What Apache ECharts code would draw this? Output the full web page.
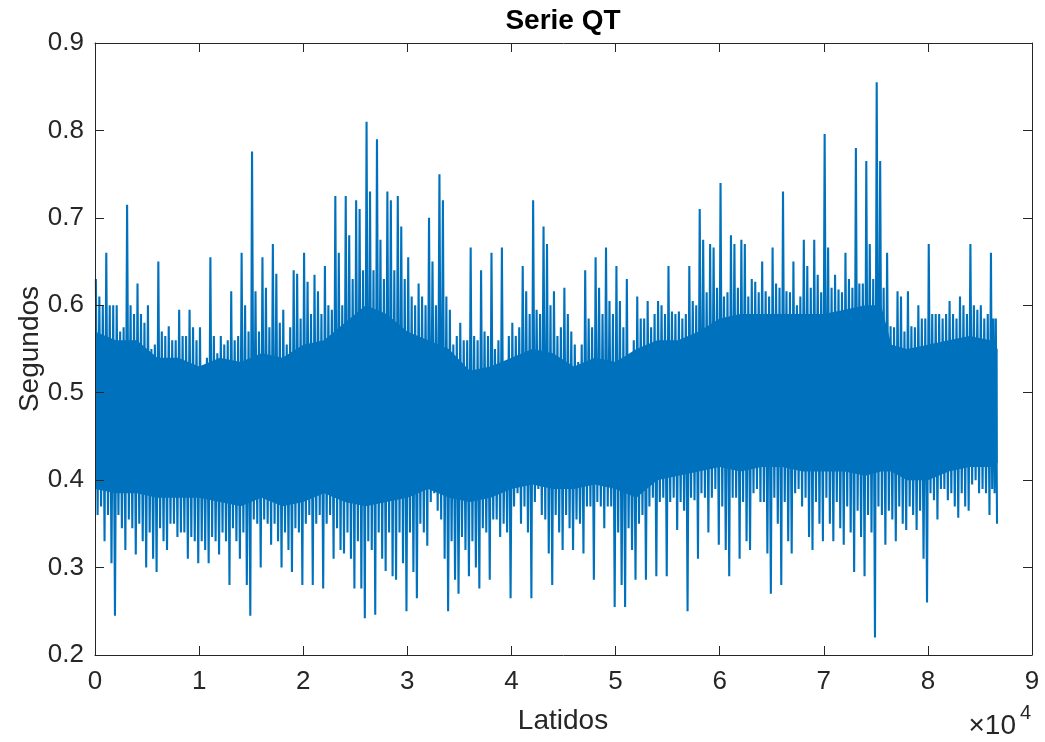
<!DOCTYPE html>
<html><head><meta charset="utf-8">
<script src="https://cdn.jsdelivr.net/npm/echarts@6/dist/echarts.min.js"></script>
<style>html,body{margin:0;padding:0;background:#fff}#c{width:1045px;height:742px}</style>
</head><body><div id="c"></div>
<script>
// Each bin covers 1000 latidos; six readings per bin:
// highest peak, dense-fringe top, secondary peak, secondary low, dense-fringe bottom, deepest low
const binSize = 1000;
const lastLatido = 86700;
const peakHi = [0.63,0.66,0.60,0.715,0.625,0.60,0.65,0.576,0.595,0.595,
  0.575,0.655,0.565,0.616,0.66,0.776,0.655,0.67,0.595,0.64,
  0.66,0.635,0.645,0.725,0.725,0.72,0.81,0.79,0.73,0.725,
  0.655,0.625,0.70,0.75,0.595,0.58,0.666,0.64,0.66,0.666,
  0.58,0.645,0.72,0.69,0.616,0.62,0.555,0.64,0.655,0.666,
  0.645,0.63,0.61,0.605,0.605,0.645,0.593,0.645,0.71,0.67,
  0.74,0.68,0.675,0.63,0.65,0.666,0.73,0.65,0.675,0.675,
  0.796,0.635,0.66,0.78,0.765,0.855,0.66,0.616,0.616,0.60,
  0.67,0.59,0.605,0.61,0.67,0.60,0.66];
const grassHi = [0.61,0.60,0.57,0.60,0.59,0.55,0.57,0.56,0.565,0.575,
  0.53,0.565,0.555,0.56,0.60,0.616,0.62,0.636,0.555,0.636,
  0.627,0.616,0.60,0.66,0.68,0.71,0.73,0.675,0.72,0.69,
  0.61,0.61,0.65,0.72,0.555,0.56,0.565,0.57,0.55,0.53,
  0.565,0.616,0.595,0.67,0.565,0.59,0.535,0.585,0.62,0.605,
  0.605,0.54,0.585,0.575,0.60,0.593,0.585,0.605,0.675,0.666,
  0.61,0.67,0.67,0.627,0.616,0.625,0.616,0.60,0.645,0.635,
  0.666,0.618,0.63,0.625,0.67,0.765,0.576,0.61,0.576,0.585,
  0.59,0.585,0.59,0.60,0.60,0.585,0.585];
const fringeHi = [0.60,0.60,0.575,0.59,0.58,0.555,0.565,0.56,0.565,0.56,
  0.54,0.545,0.56,0.565,0.57,0.57,0.575,0.58,0.575,0.585,
  0.59,0.59,0.595,0.60,0.63,0.64,0.64,0.63,0.64,0.63,
  0.60,0.60,0.60,0.61,0.565,0.56,0.56,0.565,0.56,0.565,
  0.575,0.59,0.59,0.60,0.575,0.57,0.555,0.575,0.59,0.59,
  0.575,0.56,0.585,0.59,0.59,0.59,0.59,0.60,0.615,0.62,
  0.615,0.62,0.61,0.615,0.61,0.62,0.615,0.61,0.62,0.615,
  0.62,0.615,0.62,0.625,0.63,0.62,0.575,0.57,0.575,0.585,
  0.59,0.59,0.585,0.59,0.595,0.59,0.585];
const fringeLo = [0.36,0.36,0.36,0.355,0.35,0.34,0.345,0.35,0.34,0.335,
  0.33,0.335,0.34,0.345,0.34,0.355,0.355,0.35,0.34,0.345,
  0.35,0.35,0.35,0.345,0.34,0.33,0.33,0.34,0.34,0.34,
  0.34,0.35,0.375,0.355,0.33,0.335,0.33,0.345,0.355,0.35,
  0.37,0.37,0.375,0.355,0.36,0.36,0.355,0.37,0.375,0.37,
  0.34,0.345,0.35,0.37,0.375,0.375,0.375,0.38,0.385,0.38,
  0.37,0.38,0.375,0.385,0.375,0.38,0.375,0.385,0.38,0.375,
  0.38,0.375,0.37,0.365,0.36,0.37,0.365,0.37,0.37,0.365,
  0.385,0.39,0.385,0.385,0.395,0.39,0.39];
const grassLo = [0.37,0.305,0.345,0.345,0.33,0.31,0.33,0.35,0.34,0.33,
  0.32,0.33,0.33,0.33,0.28,0.35,0.35,0.33,0.32,0.34,
  0.36,0.36,0.36,0.32,0.31,0.276,0.32,0.31,0.29,0.305,
  0.295,0.34,0.385,0.31,0.286,0.32,0.30,0.34,0.355,0.34,
  0.385,0.34,0.39,0.316,0.34,0.345,0.35,0.37,0.37,0.37,
  0.28,0.32,0.36,0.38,0.38,0.38,0.365,0.377,0.38,0.39,
  0.32,0.38,0.33,0.39,0.316,0.35,0.33,0.39,0.335,0.35,
  0.35,0.345,0.34,0.335,0.34,0.36,0.355,0.35,0.36,0.31,
  0.377,0.39,0.37,0.37,0.40,0.385,0.385];
const peakLo = [0.33,0.245,0.32,0.315,0.30,0.295,0.32,0.335,0.31,0.305,
  0.305,0.315,0.28,0.31,0.245,0.30,0.326,0.30,0.295,0.28,
  0.28,0.276,0.31,0.316,0.276,0.242,0.246,0.296,0.286,0.25,
  0.265,0.325,0.365,0.25,0.27,0.29,0.276,0.286,0.335,0.265,
  0.35,0.265,0.36,0.28,0.32,0.32,0.316,0.286,0.345,0.255,
  0.255,0.286,0.286,0.29,0.29,0.343,0.25,0.31,0.34,0.326,
  0.29,0.31,0.32,0.375,0.27,0.28,0.316,0.37,0.32,0.33,
  0.33,0.326,0.295,0.29,0.22,0.326,0.33,0.343,0.343,0.26,
  0.355,0.377,0.357,0.365,0.385,0.36,0.35];
// Visually solid core of the signal
const coreX = [0,2000,4000,6000,8000,10000,12000,14000,16000,18000,20000,22000,24000,
  26000,28000,30000,32000,34000,36000,38000,40000,42000,44000,46000,48000,50000,
  52000,54000,56000,58000,60000,62000,64000,66000,68000,70000,72000,74000,75500,
  76500,78000,80000,82000,84000,86000,86700];
const coreTop = [0.57,0.56,0.56,0.54,0.54,0.53,0.54,0.535,0.545,0.54,0.555,0.56,0.58,
  0.60,0.59,0.57,0.56,0.55,0.525,0.53,0.54,0.55,0.545,0.53,0.54,0.535,
  0.55,0.56,0.56,0.57,0.585,0.59,0.59,0.59,0.59,0.59,0.595,0.60,0.60,
  0.555,0.55,0.555,0.56,0.565,0.56,0.55];
const coreBot = [0.39,0.385,0.385,0.38,0.38,0.38,0.375,0.37,0.38,0.37,0.375,0.385,0.375,
  0.37,0.375,0.38,0.39,0.38,0.375,0.38,0.39,0.395,0.39,0.39,0.395,0.39,
  0.38,0.40,0.405,0.41,0.415,0.41,0.415,0.415,0.41,0.41,0.41,0.405,0.41,
  0.41,0.40,0.40,0.41,0.415,0.415,0.42];

const title = 'Serie QT', xName = 'Latidos', yName = 'Segundos';
const BLUE = '#0072BD', AX = '#262626';
const FONT = "'Liberation Sans', Arial, Helvetica, sans-serif";

const signal = [];
for (let k = 0; k < peakHi.length; k++) {
  const s = k * binSize, w = Math.min(binSize, lastLatido - s);
  const seq = [peakHi[k], fringeLo[k], grassHi[k], grassLo[k], fringeHi[k], peakLo[k]];
  seq.forEach((v, j) => signal.push([s + (j + 0.5) / seq.length * w, v]));
}

const chart = echarts.init(document.getElementById('c'), null, {renderer: 'canvas'});
const xBase = {type: 'value', min: 0, max: 90000, interval: 10000};
const yBase = {type: 'value', min: 0.2, max: 0.9, interval: 0.1};
const line = {show: true, onZero: false, lineStyle: {color: AX, width: 1}};
const tick = {show: true, inside: true, length: 9, lineStyle: {color: AX, width: 1}};
chart.setOption({
  animation: false,
  grid: {left: 95, right: 13, top: 43, bottom: 87, show: false},
  xAxis: [
    Object.assign({}, xBase, {position: 'bottom', z: 10, axisLine: line, axisTick: tick, splitLine: {show: false},
      axisLabel: {margin: 14, color: AX, fontSize: 26, fontFamily: FONT, formatter: v => String(v / 10000)}}),
    Object.assign({}, xBase, {position: 'top', z: 10, axisLine: line, axisTick: tick, splitLine: {show: false}, axisLabel: {show: false}})
  ],
  yAxis: [
    Object.assign({}, yBase, {position: 'left', z: 10, axisLine: line, axisTick: tick, splitLine: {show: false},
      axisLabel: {margin: 11, color: AX, fontSize: 26, fontFamily: FONT, formatter: v => v.toFixed(1)}}),
    Object.assign({}, yBase, {position: 'right', z: 10, axisLine: line, axisTick: tick, splitLine: {show: false}, axisLabel: {show: false}})
  ],
  series: [
    {type: 'custom', coordinateSystem: 'cartesian2d', data: [[coreX[0], coreBot[0]]], silent: true, z: 1,
      renderItem: function (params, api) {
        const pts = [];
        for (let i = 0; i < coreX.length; i++) pts.push(api.coord([coreX[i], coreTop[i]]));
        for (let i = coreX.length - 1; i >= 0; i--) pts.push(api.coord([coreX[i], coreBot[i]]));
        return {type: 'polygon', shape: {points: pts}, style: {fill: BLUE, stroke: null}};
      }},
    {type: 'line', data: signal, symbol: 'none', silent: true, z: 2,
      lineStyle: {color: BLUE, width: 2.1}}
  ],
  graphic: [
    {type: 'text', x: 563, y: 21, style: {text: title, fontSize: 28, fontWeight: 'bold', fontFamily: FONT, fill: '#000', align: 'center', verticalAlign: 'middle'}},
    {type: 'text', x: 563, y: 721, style: {text: xName, fontSize: 28, fontFamily: FONT, fill: AX, align: 'center', verticalAlign: 'middle'}},
    {type: 'text', x: 30, y: 349, rotation: Math.PI / 2, style: {text: yName, fontSize: 28, fontFamily: FONT, fill: AX, align: 'center', verticalAlign: 'middle'}},
    {type: 'text', x: 1016, y: 726, style: {text: '\u00d710', fontSize: 28, fontFamily: FONT, fill: AX, align: 'right', verticalAlign: 'middle'}},
    {type: 'text', x: 1020, y: 713, style: {text: '4', fontSize: 20, fontFamily: FONT, fill: AX, align: 'left', verticalAlign: 'middle'}}
  ]
});
</script>
</body></html>
